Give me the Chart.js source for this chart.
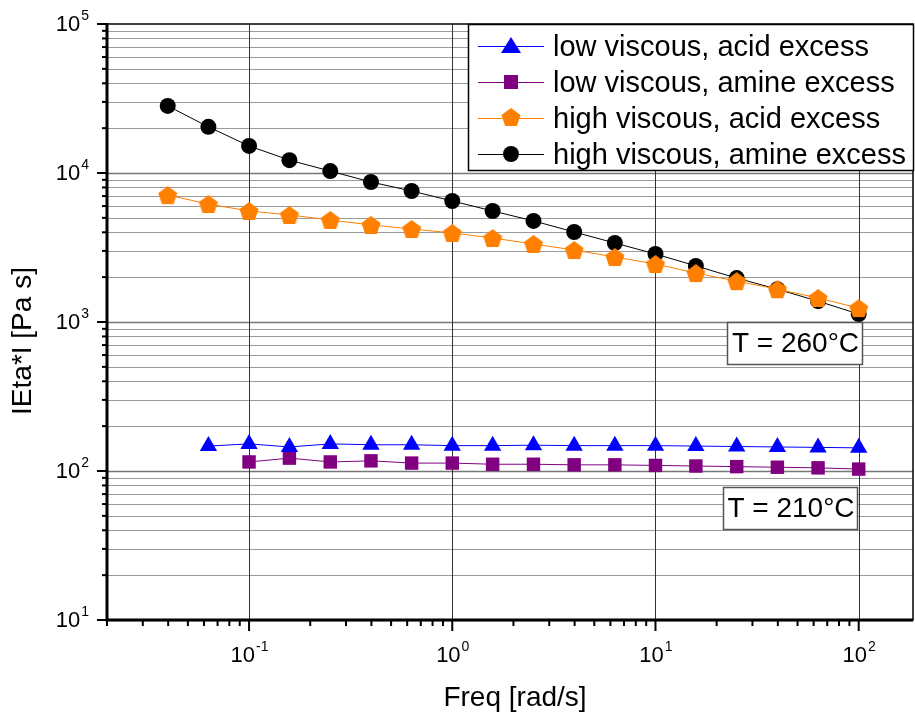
<!DOCTYPE html>
<html>
<head>
<meta charset="utf-8">
<script src="https://cdn.jsdelivr.net/npm/chart.js@4.4.1/dist/chart.umd.min.js"></script>
<style>
  html, body { margin: 0; padding: 0; background: #fff; overflow: hidden; }
  canvas { display: block; }
</style>
</head>
<body>
<canvas id="visc" width="915" height="718"></canvas>
<script>
// angular frequency [rad/s], 5 points per decade
const freq = [0.0398, 0.0631, 0.1, 0.158, 0.251, 0.398, 0.631, 1, 1.58, 2.51, 3.98, 6.31, 10, 15.8, 25.1, 39.8, 63.1, 100];

// |Eta*| [Pa s]
const lowAcid = [147, 152, 145, 152, 150, 150, 148, 148, 149, 148, 148, 148, 147, 146, 145, 144, 143];   // from 0.0631
const lowAmine = [115, 122, 115, 117, 113, 113, 111, 111, 110, 110, 109, 108, 107, 106, 105, 103];       // from 0.1
const highAcid = [7110, 6190, 5560, 5230, 4840, 4480, 4210, 3960, 3660, 3340, 3040, 2730, 2450, 2130, 1880, 1660, 1450, 1240];
const highAmine = [28200, 20400, 15200, 12200, 10300, 8700, 7570, 6490, 5560, 4770, 4020, 3390, 2860, 2380, 1970, 1660, 1380, 1130];

const seriesNames = ['low viscous, acid excess', 'low viscous, amine excess', 'high viscous, acid excess', 'high viscous, amine excess'];
const seriesColors = ['#0000ff', '#800080', '#ff8000', '#000000'];

const xDecades = [0.1, 1, 10, 100];
const xExp = ['-1', '0', '1', '2'];
const yDecades = [10, 100, 1000, 10000, 100000];
const yExp = ['1', '2', '3', '4', '5'];

const FONT = '"Liberation Sans", Arial, sans-serif';

function pts(xs, ys) {
  const off = xs.length - ys.length;
  return ys.map((v, i) => ({ x: xs[i + off], y: v }));
}

// pentagon marker image
function pentagonPath(ctx, cx, cy, r) {
  ctx.beginPath();
  for (let i = 0; i < 5; i++) {
    const a = -Math.PI / 2 + i * 2 * Math.PI / 5;
    const px = cx + r * Math.cos(a), py = cy + r * Math.sin(a);
    if (i === 0) ctx.moveTo(px, py); else ctx.lineTo(px, py);
  }
  ctx.closePath();
}
const pent = document.createElement('canvas');
pent.width = 22; pent.height = 22;
(function () {
  const c = pent.getContext('2d');
  c.fillStyle = '#ff8000';
  pentagonPath(c, 11, 12, 10);
  c.fill();
})();

function marker(ctx, kind, x, y) {
  ctx.save();
  if (kind === 0) {
    ctx.fillStyle = seriesColors[0];
    ctx.beginPath();
    ctx.moveTo(x, y - 9); ctx.lineTo(x + 10, y + 7); ctx.lineTo(x - 10, y + 7);
    ctx.closePath(); ctx.fill();
  } else if (kind === 1) {
    ctx.fillStyle = seriesColors[1];
    ctx.fillRect(x - 7, y - 7, 14, 14);
  } else if (kind === 2) {
    ctx.drawImage(pent, x - 11, y - 12);
  } else {
    ctx.fillStyle = '#000';
    ctx.beginPath(); ctx.arc(x, y, 8, 0, Math.PI * 2); ctx.fill();
  }
  ctx.restore();
}

function powLabel(ctx, exp, x, y, align) {
  ctx.font = '22px ' + FONT;
  const wb = ctx.measureText('10').width;
  ctx.font = '14px ' + FONT;
  const ws = ctx.measureText(exp).width;
  const sx = align === 'center' ? x - (wb + ws) / 2 : x - wb - ws;
  ctx.textAlign = 'left';
  ctx.textBaseline = 'middle';
  ctx.font = '22px ' + FONT;
  ctx.fillText('10', sx, y);
  ctx.font = '14px ' + FONT;
  ctx.fillText(exp, sx + wb + 1, y - 9);
}

const gridAndAxes = {
  id: 'gridAndAxes',
  beforeDatasetsDraw(chart) {
    const { ctx, chartArea: a, scales: { x, y } } = chart;
    ctx.save();
    // horizontal grid at every log step
    for (let d = 10; d < 100000; d *= 10) {
      for (let m = 1; m < 10; m++) {
        const py = Math.round(y.getPixelForValue(d * m)) + 0.5;
        ctx.strokeStyle = m === 1 ? '#777' : '#9a9a9a';
        ctx.lineWidth = m === 1 ? 1.5 : 1;
        ctx.beginPath(); ctx.moveTo(a.left, py); ctx.lineTo(a.right, py); ctx.stroke();
      }
    }
    // vertical grid at decades
    ctx.strokeStyle = '#333';
    ctx.lineWidth = 1;
    xDecades.forEach(v => {
      const px = Math.round(x.getPixelForValue(v)) + 0.5;
      ctx.beginPath(); ctx.moveTo(px, a.top); ctx.lineTo(px, a.bottom); ctx.stroke();
    });
    ctx.restore();
  },
  afterDatasetsDraw(chart) {
    const { ctx, chartArea: a, scales: { x, y } } = chart;
    ctx.save();
    ctx.strokeStyle = '#000';
    // frame
    ctx.lineWidth = 1.5;
    ctx.strokeRect(a.left, a.top, a.right - a.left, a.bottom - a.top);
    ctx.lineWidth = 3;
    ctx.beginPath();
    ctx.moveTo(a.left, a.top - 1); ctx.lineTo(a.left, a.bottom); ctx.lineTo(a.right, a.bottom);
    ctx.stroke();

    // y ticks
    ctx.lineWidth = 2;
    for (let d = 10; d <= 100000; d *= 10) {
      for (let m = 1; m < 10; m++) {
        const v = d * m;
        if (v > 100000) break;
        const py = y.getPixelForValue(v);
        ctx.beginPath(); ctx.moveTo(a.left, py); ctx.lineTo(a.left - (m === 1 ? 10 : 5), py); ctx.stroke();
      }
    }
    // x ticks
    for (let d = 0.01; d < 1000; d *= 10) {
      for (let m = 1; m < 10; m++) {
        const v = d * m;
        if (v < 0.0199 || v > x.max) continue;
        const px = x.getPixelForValue(v);
        ctx.beginPath(); ctx.moveTo(px, a.bottom); ctx.lineTo(px, a.bottom + (m === 1 ? 11 : 6)); ctx.stroke();
      }
    }

    // tick labels
    ctx.fillStyle = '#000';
    xDecades.forEach((v, i) => powLabel(ctx, xExp[i], x.getPixelForValue(v), a.bottom + 36, 'center'));
    yDecades.forEach((v, i) => powLabel(ctx, yExp[i], 88, y.getPixelForValue(v) + 1, 'right'));
    ctx.restore();
  }
};

const overlays = {
  id: 'overlays',
  afterDraw(chart) {
    const { ctx } = chart;
    ctx.save();
    // axis titles
    ctx.fillStyle = '#000';
    ctx.font = '28px ' + FONT;
    ctx.textAlign = 'center';
    ctx.textBaseline = 'middle';
    ctx.fillText('Freq [rad/s]', 515, 698);
    ctx.save();
    ctx.translate(23, 341);
    ctx.rotate(-Math.PI / 2);
    ctx.fillText('IEta*I [Pa s]', 0, 0);
    ctx.restore();

    // legend
    ctx.fillStyle = '#fff';
    ctx.fillRect(468, 24, 446, 147);
    ctx.strokeStyle = '#000';
    ctx.lineWidth = 1.5;
    ctx.strokeRect(468.5, 24.5, 445, 146);
    const rows = [46, 82, 118, 154];
    rows.forEach((ry, i) => {
      ctx.strokeStyle = seriesColors[i];
      ctx.lineWidth = 1;
      ctx.beginPath(); ctx.moveTo(478, ry + 0.5); ctx.lineTo(544, ry + 0.5); ctx.stroke();
      marker(ctx, i, 511, ry);
      ctx.fillStyle = '#000';
      ctx.font = '29px ' + FONT;
      ctx.textAlign = 'left';
      ctx.textBaseline = 'alphabetic';
      ctx.fillText(seriesNames[i], 553, ry + 10);
    });

    // temperature boxes
    const boxes = [['T = 260°C', 727, 322, 135, 42], ['T = 210°C', 723, 487, 134, 42]];
    boxes.forEach(([t, bx, by, bw, bh]) => {
      ctx.fillStyle = '#fff';
      ctx.fillRect(bx, by, bw, bh);
      ctx.strokeStyle = '#555';
      ctx.lineWidth = 1.5;
      ctx.strokeRect(bx + 0.5, by + 0.5, bw, bh);
      ctx.fillStyle = '#000';
      ctx.font = '28px ' + FONT;
      ctx.textAlign = 'center';
      ctx.textBaseline = 'middle';
      ctx.fillText(t, bx + bw / 2 + 1, by + bh / 2 + 1);
    });
    ctx.restore();
  }
};

new Chart(document.getElementById('visc'), {
  type: 'line',
  data: {
    datasets: [
      { label: seriesNames[0], data: pts(freq, lowAcid), borderColor: seriesColors[0], backgroundColor: seriesColors[0],
        pointStyle: 'triangle', pointRadius: 10, borderWidth: 1, pointBorderWidth: 0 },
      { label: seriesNames[1], data: pts(freq, lowAmine), borderColor: seriesColors[1], backgroundColor: seriesColors[1],
        pointStyle: 'rect', pointRadius: 9.5, borderWidth: 1, pointBorderWidth: 0 },
      { label: seriesNames[2], data: pts(freq, highAcid), borderColor: seriesColors[2], backgroundColor: seriesColors[2],
        pointStyle: pent, pointRadius: 10, borderWidth: 1, pointBorderWidth: 0 },
      { label: seriesNames[3], data: pts(freq, highAmine), borderColor: seriesColors[3], backgroundColor: seriesColors[3],
        pointStyle: 'circle', pointRadius: 8, borderWidth: 1, pointBorderWidth: 0 }
    ]
  },
  options: {
    responsive: false,
    animation: false,
    devicePixelRatio: 1,
    layout: { autoPadding: false, padding: { top: 24, right: 2, left: 0, bottom: 0 } },
    plugins: { legend: { display: false }, tooltip: { enabled: false } },
    elements: { line: { tension: 0 } },
    scales: {
      x: {
        type: 'logarithmic', min: 0.02, max: 185,
        ticks: { display: false }, grid: { display: false }, border: { display: false },
        afterFit(s) { s.height = 98; }
      },
      y: {
        type: 'logarithmic', min: 10, max: 100000,
        ticks: { display: false }, grid: { display: false }, border: { display: false },
        afterFit(s) { s.width = 107; }
      }
    }
  },
  plugins: [gridAndAxes, overlays]
});
</script>
</body>
</html>
